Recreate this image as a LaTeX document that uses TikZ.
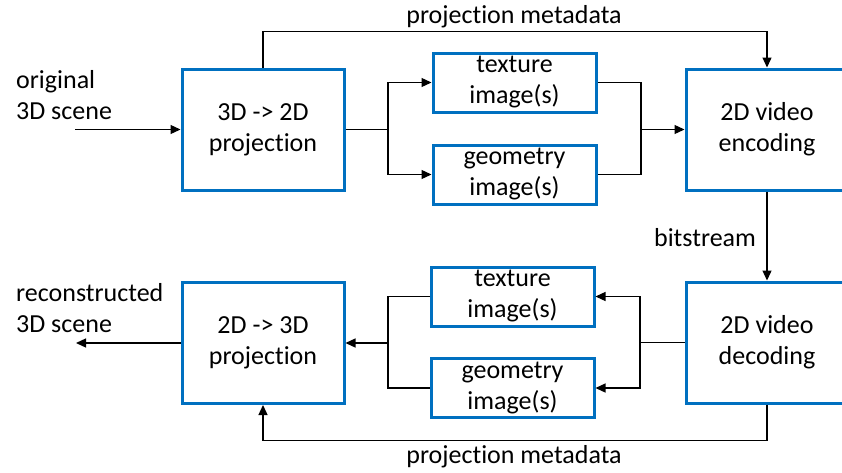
\documentclass[tikz,border=0pt]{standalone}
\usepackage{fontspec}
\setmainfont{Carlito}[Ligatures=NoCommon]
\usetikzlibrary{arrows.meta}

\begin{document}
\begin{tikzpicture}[x=1pt, y=-1pt,
  font=\fontsize{26}{31}\selectfont,
  block/.style={draw=boxblue, line width=3pt, align=center, inner sep=0pt,
    minimum width=162pt, minimum height=121pt},
  imgbox/.style={block, minimum width=163pt, minimum height=59pt},
  label/.style={inner sep=0pt, align=left},
  line/.style={line width=1.3pt},
  arr/.style={line, -{Triangle[length=10pt,width=9pt]}}]
\definecolor{boxblue}{HTML}{0070C0}
\useasboundingbox (0,0) rectangle (842,472);

% encoder side
\node[block] (proj) at (263,129.5) {3D -> 2D\\projection};
\node[imgbox] (tex) at (514.5,82.5) {texture\\image(s)};
\node[imgbox] (geo) at (514.5,174.5) {geometry\\image(s)};
\node[block] (enc) at (767,129.5) {2D video\\encoding};

% decoder side
\node[block] (dec) at (767,342.5) {2D video\\decoding};
\node[imgbox] (tex2) at (512.5,296.5) {texture\\image(s)};
\node[imgbox] (geo2) at (512.5,388) {geometry\\image(s)};
\node[block] (rec) at (263,343) {2D -> 3D\\projection};

% texts
\node[label, anchor=west] (orig) at (16,95) {original\\3D scene};
\node[label, anchor=west] (recon) at (16,308) {reconstructed\\3D scene};
\node[label] (meta1) at (514,17) {projection metadata};
\node[label] (meta2) at (514,457) {projection metadata};
\node[label] (bits) at (705,238) {bitstream};

\coordinate (in) at (75,129.5);
\coordinate (outend) at (76,343);
\coordinate (split1) at (388,129.5);
\coordinate (join1) at (641,129.5);
\coordinate (split2) at (640,342.5);
\coordinate (join2) at (388,343);

% connectors
\draw[arr] (in) -- (proj);
\draw[line] (proj) -- (split1);
\draw[arr] (split1) |- (tex);
\draw[arr] (split1) |- (geo);
\draw[line] (tex) -| (join1);
\draw[line] (geo) -| (join1);
\draw[arr] (join1) -- (enc);
\draw[arr] (proj.north) -- ++(0,-36) -| (enc.north);
\draw[arr] (enc) -- (dec);

\draw[line] (dec) -- (split2);
\draw[arr] (split2) |- (tex2);
\draw[arr] (split2) |- (geo2);
\draw[line] (tex2) -| (join2);
\draw[line] (geo2) -| (join2);
\draw[arr] (join2) -- (rec);
\draw[arr] (rec) -- (outend);
\draw[arr] (dec.south) -- ++(0,36) -| (rec.south);
\end{tikzpicture}
\end{document}
